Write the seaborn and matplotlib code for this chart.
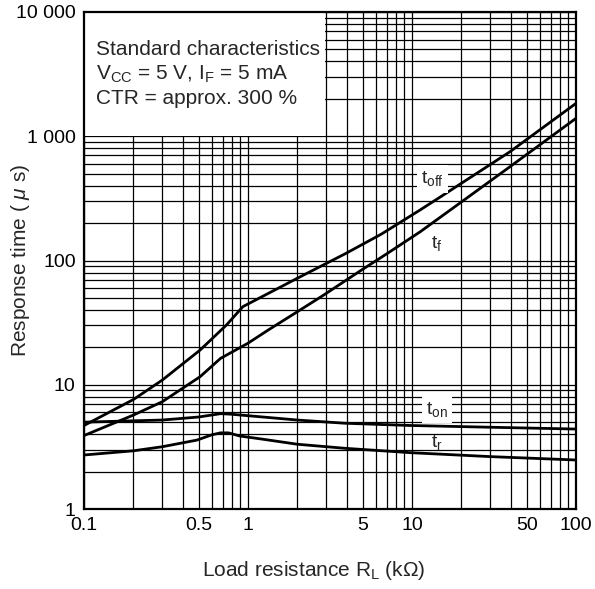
import matplotlib
matplotlib.use("Agg")
import matplotlib.pyplot as plt
from matplotlib.patches import Rectangle
from matplotlib.ticker import FixedLocator, FixedFormatter, LogLocator, NullFormatter
import seaborn as sns
import pandas as pd

# Response time vs load resistance (values read on log-log scale)
rl_toff = [0.1, 0.2, 0.3, 0.51, 0.74, 0.93, 2.0, 3.9, 6.5, 11.2, 14.8, 39.6, 100]
t_off = [4.7, 7.6, 10.9, 19.0, 30.3, 42.5, 72, 113, 163, 255, 323, 751, 1840]

rl_tf = [0.1, 0.2, 0.3, 0.51, 0.68, 1.0, 1.33, 2.0, 2.9, 4.8, 7.0, 11.2, 19.6, 39.6, 100]
t_f = [3.9, 5.7, 7.3, 11.6, 16.3, 21.6, 27.6, 38.7, 52.8, 82, 113, 170, 290, 569, 1394]

rl_ton = [0.1, 0.3, 0.5, 0.68, 0.78, 2.0, 3.9, 9.8, 30, 100]
t_on = [5.0, 5.2, 5.5, 5.85, 5.8, 5.2, 4.9, 4.7, 4.55, 4.4]

rl_tr = [0.1, 0.2, 0.3, 0.49, 0.6, 0.68, 0.76, 0.89, 1.24, 2.0, 3.9, 9.8, 30, 100]
t_r = [2.72, 2.94, 3.17, 3.59, 3.95, 4.1, 4.1, 3.87, 3.64, 3.32, 3.08, 2.84, 2.64, 2.48]

x_ticks = [0.1, 0.5, 1, 5, 10, 50, 100]
x_ticklabels = ["0.1", "0.5", "1", "5", "10", "50", "100"]
y_ticks = [1, 10, 100, 1000, 10000]
y_ticklabels = ["1", "10", "100", "1 000", "10 000"]

sns.set_style("white")
plt.rcParams["font.family"] = ["Liberation Sans", "DejaVu Sans"]
plt.rcParams["mathtext.fontset"] = "custom"
plt.rcParams["mathtext.rm"] = "Liberation Sans"
plt.rcParams["mathtext.it"] = "Liberation Sans:italic"

fig = plt.figure(figsize=(5.95, 5.89), dpi=100)
ax = fig.add_axes([84 / 595, 80 / 589, 492 / 595, 497 / 589])

series = [(rl_toff, t_off), (rl_tf, t_f), (rl_ton, t_on), (rl_tr, t_r)]
for xs, ys in series:
    df = pd.DataFrame({"RL": xs, "t": ys})
    sns.lineplot(data=df, x="RL", y="t", ax=ax, color="black", lw=2.0,
                 sort=False, estimator=None, zorder=3)

ax.set_xscale("log")
ax.set_yscale("log")
ax.set_xlim(0.1, 100)
ax.set_ylim(1, 10000)

ax.xaxis.set_major_locator(FixedLocator(x_ticks))
ax.xaxis.set_major_formatter(FixedFormatter(x_ticklabels))
ax.xaxis.set_minor_locator(LogLocator(base=10, subs=range(1, 10), numticks=50))
ax.xaxis.set_minor_formatter(NullFormatter())
ax.yaxis.set_major_locator(FixedLocator(y_ticks))
ax.yaxis.set_major_formatter(FixedFormatter(y_ticklabels))
ax.yaxis.set_minor_locator(LogLocator(base=10, subs=range(1, 10), numticks=50))
ax.yaxis.set_minor_formatter(NullFormatter())

ax.set_axisbelow(True)
ax.grid(which="both", color="black", lw=0.9)
ax.tick_params(which="both", length=0, labelsize=14, pad=6, colors="black")
for s in ax.spines.values():
    s.set_visible(True)
    s.set_color("black")
    s.set_linewidth(1.6)

# blank panel for the test conditions
ax.add_patch(Rectangle((0.1, 1012), 2.96 - 0.1, 9000, facecolor="white",
                       edgecolor="none", zorder=1))
cond = ["Standard characteristics",
        r"V$_{\mathrm{CC}}$ = 5 V, I$_{\mathrm{F}}$ = 5 mA",
        "CTR = approx. 300 %"]
for line, yf in zip(cond, [0.9135, 0.8632, 0.8149]):
    ax.text(12 / 492, yf, line, transform=ax.transAxes, fontsize=15,
            va="baseline", ha="left", zorder=4)

# curve labels
box = dict(facecolor="white", edgecolor="none", pad=3)
ax.text(13.4, 453, r"t$_{\mathrm{off}}$", fontsize=14, ha="center", va="center",
        bbox=box, zorder=4)
ax.text(14.2, 138, r"t$_{\mathrm{f}}$", fontsize=14, ha="center", va="center", zorder=4)
ax.text(14.2, 6.38, r"t$_{\mathrm{on}}$", fontsize=14, ha="center", va="center",
        bbox=box, zorder=4)
ax.text(14.2, 3.46, r"t$_{\mathrm{r}}$", fontsize=14, ha="center", va="center", zorder=4)

ax.set_xlabel(r"Load resistance R$_{\mathrm{L}}$ (k$\Omega$)", fontsize=15)
ax.xaxis.label.set_va("center")
ax.xaxis.set_label_coords(0.4675, -0.1247)
ax.set_ylabel(r"Response time ( $\mu$ s)", fontsize=15)
ax.yaxis.label.set_va("center")
ax.yaxis.set_label_coords(-0.130, 0.501)

fig.savefig("out.png", dpi=100)
